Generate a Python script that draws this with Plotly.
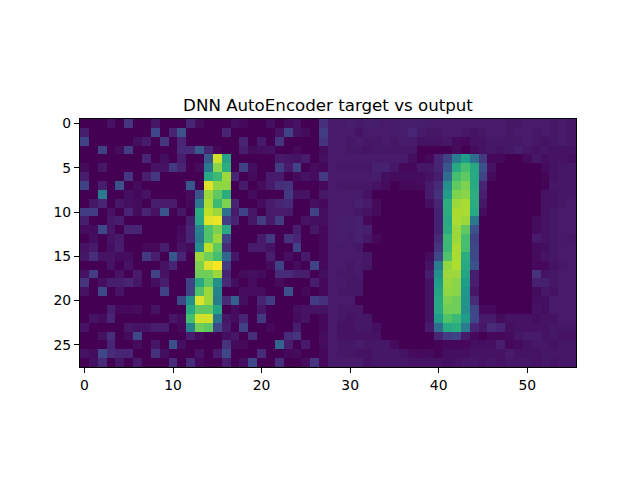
import plotly.graph_objects as go

# Pixel intensities in percent
target = [
    [0,0,0,5,0,15,0,0,6,0,0,0,10,3,0,0,0,4,2,0,0,4,0,3,5,0,0,14],
    [8,0,0,0,0,0,0,0,22,0,10,25,0,0,0,0,10,0,0,0,0,0,5,20,5,3,0,18],
    [20,0,0,0,0,0,4,7,0,16,0,10,0,0,0,0,0,0,10,0,7,0,15,0,0,0,0,15],
    [0,0,20,0,3,18,0,0,0,0,0,11,12,28,10,2,0,0,8,3,4,5,0,0,2,0,0,3],
    [0,0,0,0,0,0,0,10,0,4,0,8,0,0,28,93,58,0,0,0,0,0,7,6,5,7,0,4],
    [3,0,6,0,0,0,0,0,5,5,17,10,0,3,40,82,62,0,20,4,0,0,18,7,20,0,3,2],
    [8,0,0,0,0,16,0,8,16,0,0,0,0,0,60,68,85,10,0,3,0,7,7,0,3,5,3,17],
    [20,0,8,0,25,0,3,0,0,0,0,0,27,0,95,83,83,0,7,0,3,7,13,14,0,0,0,2],
    [0,0,42,0,0,4,2,5,0,0,0,0,3,25,85,75,62,0,0,3,0,0,0,17,5,5,0,6],
    [0,6,10,0,6,4,3,0,8,7,7,0,2,40,87,68,80,10,0,0,3,7,10,12,0,0,4,2],
    [18,18,0,5,0,10,3,10,5,27,0,6,0,62,90,85,37,7,20,6,0,7,7,7,0,0,20,4],
    [8,0,0,6,8,0,0,0,0,0,0,0,8,60,95,97,18,10,0,6,18,7,18,0,0,5,4,4],
    [3,3,22,6,0,10,10,0,0,0,0,2,10,45,72,80,60,0,0,0,0,0,0,0,8,0,6,2],
    [0,4,0,5,7,0,0,0,0,0,0,3,10,42,72,85,20,0,0,0,7,17,0,14,10,0,0,2],
    [5,7,0,4,8,0,0,2,2,8,0,5,3,50,90,75,12,0,0,7,7,5,0,0,20,0,0,2],
    [6,13,5,5,3,3,0,17,8,0,27,10,0,85,78,70,33,6,0,0,0,8,0,4,0,7,0,2],
    [0,0,0,5,0,5,0,0,0,5,10,0,0,80,95,100,18,0,0,0,0,3,20,0,3,0,20,2],
    [5,18,0,0,5,0,7,0,20,5,0,0,0,78,78,85,10,0,3,4,3,0,12,12,8,8,0,4],
    [15,0,4,8,8,10,6,0,4,8,0,0,20,60,75,50,12,4,0,3,0,0,3,0,0,0,8,2],
    [5,0,22,0,5,0,0,0,0,20,0,0,20,72,85,45,0,0,3,3,3,0,0,25,0,2,0,2],
    [0,0,0,0,0,0,0,0,0,0,0,22,50,95,85,42,12,30,4,0,10,18,0,0,0,0,18,14],
    [0,0,0,8,2,2,3,0,5,0,0,0,60,75,75,58,0,3,0,0,6,0,0,0,4,5,5,5],
    [0,5,3,10,0,0,0,0,0,0,6,3,70,93,93,38,6,3,10,0,17,0,0,0,3,5,0,2],
    [5,0,0,0,0,6,5,5,8,8,0,2,45,78,75,22,8,0,20,0,0,2,0,0,8,0,0,2],
    [0,0,5,13,0,3,22,0,0,0,0,0,8,3,0,0,4,6,0,13,0,0,0,12,15,0,0,3],
    [0,0,0,10,0,0,3,0,6,0,25,4,0,0,0,0,14,3,2,0,0,0,32,8,0,7,0,3],
    [5,3,22,12,10,10,0,0,14,4,0,0,0,5,0,7,22,0,0,0,12,0,0,2,3,0,0,2],
    [0,4,12,0,6,0,7,0,0,0,12,0,12,2,0,0,8,0,4,22,0,0,13,0,0,3,15,2],
]

output = [
    [7,7,8,7,8,8,7,7,8,8,8,7,7,7,7,7,7,7,7,7,6,6,7,7,7,6,7,6],
    [7,7,7,5,7,7,7,7,8,10,7,6,6,7,7,6,5,6,7,7,6,7,7,6,7,6,7,6],
    [7,7,6,7,6,6,7,6,7,7,5,5,5,6,3,2,5,5,6,6,6,6,7,6,5,6,7,6],
    [7,7,6,6,5,6,6,6,6,6,0,0,0,0,3,0,3,5,6,5,6,8,6,5,6,5,5,5],
    [7,7,7,7,7,7,7,7,7,4,0,2,10,20,42,55,35,17,2,2,0,0,3,6,4,5,5,4],
    [7,6,6,6,6,9,9,6,2,2,6,6,10,27,60,70,60,25,5,0,0,0,0,0,3,5,6,6],
    [7,7,7,7,7,8,4,3,3,3,3,5,8,35,70,75,60,20,3,0,0,0,0,0,1,5,6,6],
    [7,6,6,6,6,5,3,0,2,2,3,7,12,50,75,80,60,10,0,0,0,0,0,0,1,6,6,6],
    [7,7,7,7,5,0,0,0,0,0,0,7,14,55,80,82,62,8,0,0,0,0,0,0,5,5,6,6],
    [7,7,7,9,7,3,0,0,0,0,0,4,10,62,85,87,62,6,0,0,0,0,0,0,5,5,6,7],
    [7,7,7,6,5,3,0,0,0,0,0,0,9,62,87,87,60,3,0,0,0,0,0,0,5,6,7,7],
    [7,8,8,9,2,0,0,0,0,0,0,0,9,60,87,85,40,0,0,0,0,0,0,3,5,6,7,7],
    [7,8,8,9,8,0,0,0,0,0,0,0,9,62,85,75,25,0,0,0,0,0,0,3,5,6,7,7],
    [7,8,7,9,6,2,0,0,0,0,0,0,12,68,85,70,20,0,0,0,0,0,0,7,5,6,7,6],
    [7,7,7,6,0,0,0,0,0,0,0,0,15,68,87,70,22,0,0,0,0,0,0,3,4,6,7,7],
    [7,7,7,7,6,0,0,0,0,0,0,3,22,72,87,62,22,0,0,0,0,0,0,3,5,6,7,7],
    [7,7,6,7,6,0,0,0,0,0,0,5,42,83,88,60,25,0,0,0,0,0,0,2,2,5,6,7],
    [7,6,6,7,0,0,0,0,0,0,0,8,50,85,85,58,8,0,0,0,0,0,0,14,5,6,7,7],
    [7,7,6,6,0,0,0,0,0,0,0,5,55,84,82,55,8,0,0,0,0,0,0,9,9,6,7,7],
    [7,6,6,6,0,0,0,0,0,0,0,5,58,83,82,52,6,0,0,0,0,0,0,3,6,5,7,7],
    [7,7,7,0,0,0,0,0,0,0,0,5,60,80,78,52,12,0,0,0,0,0,0,4,4,7,7,7],
    [7,6,6,6,0,0,0,0,0,0,0,5,60,78,78,50,22,2,2,0,0,0,0,5,4,7,7,7],
    [7,6,5,6,6,0,0,0,0,0,0,5,55,72,68,55,22,7,7,3,5,5,5,4,5,5,7,7],
    [7,5,5,6,6,4,0,0,0,0,0,7,35,60,62,42,10,6,12,10,4,5,5,5,5,6,6,6],
    [7,5,5,5,5,5,0,0,0,0,0,0,10,18,20,7,2,0,2,2,3,6,7,7,5,6,5,5],
    [7,6,6,7,6,6,6,3,0,0,0,0,1,2,2,2,4,4,4,8,2,3,5,6,6,5,6,6],
    [7,6,6,5,5,6,6,6,5,3,2,3,1,4,4,4,5,5,5,5,7,5,5,5,6,6,6,6],
    [7,7,7,7,5,6,6,6,6,5,5,5,5,4,5,6,6,5,6,5,6,6,6,5,6,5,6,6],
]

x_ticks = [0, 10, 20, 30, 40, 50]
y_ticks = [0, 5, 10, 15, 20, 25]
title_text = "DNN AutoEncoder target vs output"

for a, b in zip(target, output):
    assert len(a) == 28 and len(b) == 28

z = [a + b for a, b in zip(target, output)]

fig = go.Figure(go.Heatmap(z=z, colorscale="Viridis", zmin=0, zmax=100,
                           showscale=False, hoverinfo="skip"))

axis_common = dict(showgrid=False, zeroline=False, showline=True, mirror=True,
                   linecolor="black", linewidth=1.1, ticks="outside", ticklen=5,
                   tickwidth=1.1, tickcolor="black", tickmode="array",
                   tickfont=dict(family="DejaVu Sans", size=13.9, color="black"))

fig.update_layout(
    width=624, height=464,
    margin=dict(l=72, r=56, t=111, b=105),
    paper_bgcolor="white", plot_bgcolor="white",
    title=dict(text=title_text, x=320/624, xanchor="center", y=1-97/464, yanchor="middle",
               font=dict(family="DejaVu Sans", size=16.67, color="black")),
    xaxis=dict(range=[-0.5, 55.5], tickvals=x_ticks, ticktext=[str(v) for v in x_ticks], **axis_common),
    yaxis=dict(range=[27.5, -0.5], tickvals=y_ticks, ticktext=[str(v) for v in y_ticks], **axis_common),
)

fig.write_html("out.html")
